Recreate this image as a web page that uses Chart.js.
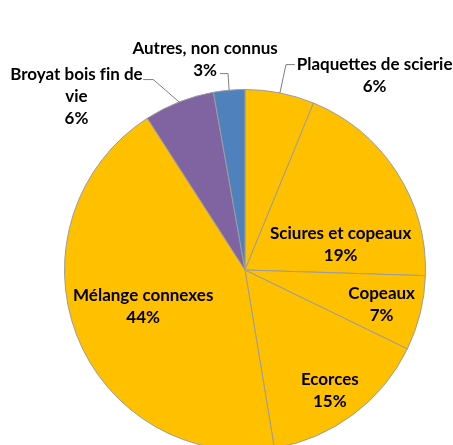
<!DOCTYPE html>
<html>
<head>
    <meta charset="utf-8">
    <title>Connexes</title>
    <script src="https://cdn.jsdelivr.net/npm/chart.js"></script>
    <style>
        body { margin: 0; overflow: hidden; background: #fff; }
        #box { width: 453px; height: 460px; }
    </style>
</head>
<body>
    <div id="box"><canvas id="myChart"></canvas></div>
    <script>
        // Data (slice shares in %)
        const categories = ['Plaquettes de scierie', 'Sciures et copeaux', 'Copeaux', 'Ecorces',
                            'Mélange connexes', 'Broyat bois fin de vie', 'Autres, non connus'];
        const shares = [6.2, 19.3, 6.7, 15.2, 43.5, 6.3, 2.8];
        const colors = ['#FFC000', '#FFC000', '#FFC000', '#FFC000', '#FFC000', '#8064A2', '#4F81BD'];

        // label text lines (last line = percentage, added at draw time)
        // \u200C keeps "fi" from turning into a ligature
        const labelLines = [
            ['Plaquettes de scierie'],
            ['Sciures et copeaux'],
            ['Copeaux'],
            ['Ecorces'],
            ['Mélange connexes'],
            ['Broyat bois f\u200Cin de', 'vie'],
            ['Autres, non connus']
        ];

        // label placement, in units of the pie radius from its centre
        const labelLayout = [
            { dx: 0.718, dy: -1.080, elbow: [0.227, -1.138], end: 0.276 },
            { dx: 0.530, dy: -0.141 },
            { dx: 0.757, dy: 0.193 },
            { dx: 0.470, dy: 0.669 },
            { dx: -0.564, dy: 0.204 },
            { dx: -0.934, dy: -0.961, elbow: [-0.508, -1.055], end: -0.564 },
            { dx: -0.221, dy: -1.166, elbow: [-0.094, -1.088], end: -0.138 }
        ];

        const pieLabels = {
            id: 'pieLabels',
            afterDraw(chart) {
                const ctx = chart.ctx;
                const meta = chart.getDatasetMeta(0);
                const total = shares.reduce((a, b) => a + b, 0);
                ctx.save();
                meta.data.forEach((arc, i) => {
                    const r = arc.outerRadius;
                    const cx = arc.x, cy = arc.y;
                    const lay = labelLayout[i];

                    // leader line from the middle of the slice's edge
                    if (lay.elbow) {
                        const mid = (arc.startAngle + arc.endAngle) / 2;
                        const ex = cx + Math.cos(mid) * r;
                        const ey = cy + Math.sin(mid) * r;
                        const bx = cx + lay.elbow[0] * r;
                        const by = cy + lay.elbow[1] * r;
                        ctx.beginPath();
                        ctx.moveTo(ex, ey);
                        ctx.lineTo(bx, by);
                        ctx.lineTo(cx + lay.end * r, by);
                        ctx.strokeStyle = '#7f7f7f';
                        ctx.lineWidth = 1;
                        ctx.stroke();
                    }

                    const lines = labelLines[i].concat([Math.round(shares[i] / total * 100) + '%']);
                    const lh = 22;
                    const x = cx + lay.dx * r;
                    let y = cy + lay.dy * r - (lines.length - 1) * lh / 2;
                    ctx.fillStyle = '#000';
                    ctx.font = 'bold 17px Lato';
                    ctx.textAlign = 'center';
                    ctx.textBaseline = 'middle';
                    lines.forEach(t => {
                        ctx.fillText(t, x, y);
                        y += lh;
                    });
                });
                ctx.restore();
            }
        };

        const ctx = document.getElementById('myChart').getContext('2d');
        const chart = new Chart(ctx, {
            type: 'pie',
            data: {
                labels: categories,
                datasets: [{
                    data: shares,
                    backgroundColor: colors,
                    borderColor: '#9c9c9c',
                    borderWidth: 1
                }]
            },
            options: {
                responsive: true,
                maintainAspectRatio: false,
                animation: false,
                layout: { padding: { left: 64, right: 27, top: 89, bottom: 9 } },
                plugins: {
                    legend: { display: false },
                    tooltip: { enabled: false }
                }
            },
            plugins: [pieLabels]
        });
    </script>
</body>
</html>
